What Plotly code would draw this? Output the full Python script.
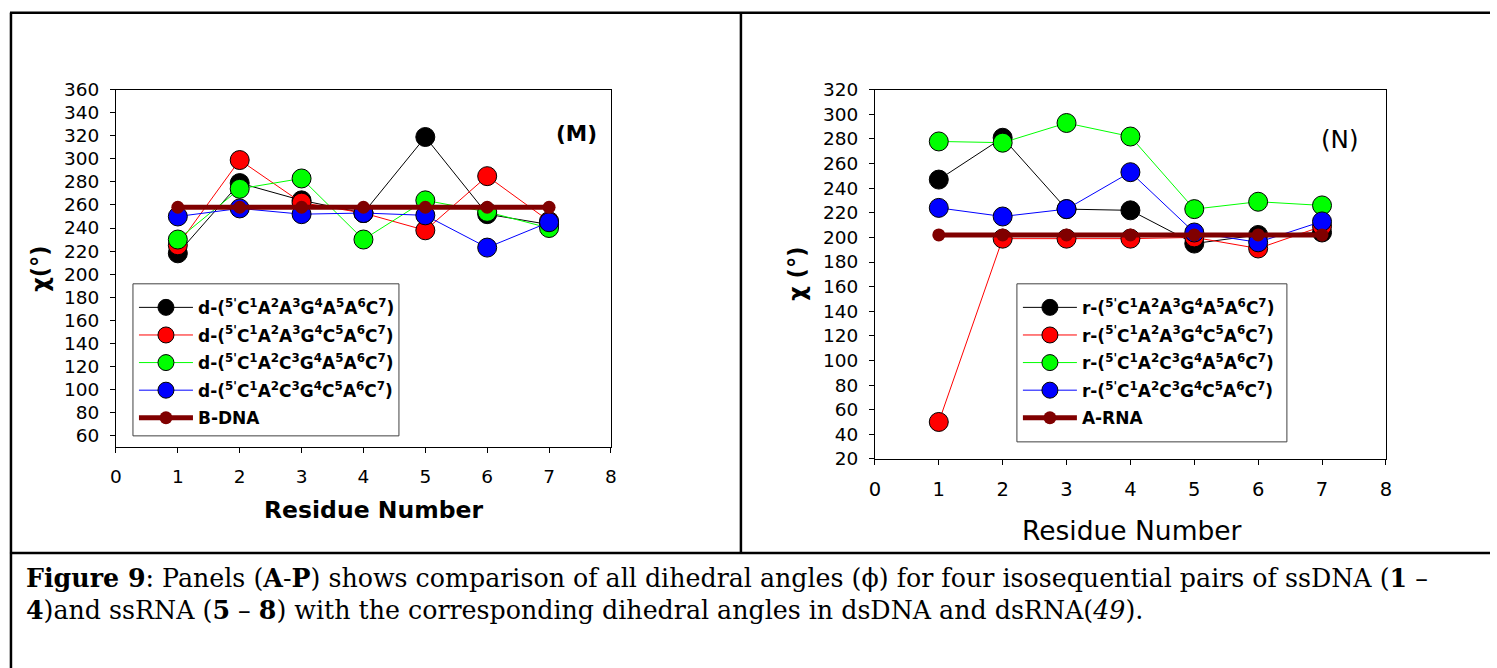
import plotly.graph_objects as go

# Target picture size; all positions below are given in target-picture pixels.
W, H = 1497, 668
# Page geometry: the body keeps an 8px margin and the captured page is mapped
# onto the picture with a small fixed scale; positions are converted back here.
OFF = 8
SX, BX = 0.992, -1.9
SY, BY = 0.9685, 2.5
FW, FH = 1490, 672

residues = [1, 2, 3, 4, 5, 6, 7]

# Panel M (ssDNA)
m_black = [218, 279, 264, 253, 319, 252, 243]
m_red = [225, 299, 262, 253, 238, 285, 246]
m_green = [230, 274, 283, 230, 264, 254, 240]
m_blue = [250, 257, 252, 253, 251, 223, 245]
m_bdna = [258, 258, 258, 258, 258, 258, 258]

# Panel N (ssRNA)
n_black = [247, 281, 223, 222, 195, 202, 204]
n_red = [50, 199, 199, 199, 200, 191, 209]
n_green = [278, 277, 293, 282, 223, 229, 226]
n_blue = [224, 217, 223, 253, 204, 196, 213]
n_arna = [202, 202, 202, 202, 202, 202, 202]

sequences = ["CAAGAAC", "CAAGCAC", "CACGAAC", "CACGCAC"]
colors = ["#000000", "#FF0000", "#00FF00", "#0000FF"]
x_ticks = [0, 1, 2, 3, 4, 5, 6, 7, 8]

SANS = "DejaVu Sans, Liberation Sans, Arial, sans-serif"
SERIF = "DejaVu Serif, Liberation Serif, Times New Roman, serif"


def seq_label(prefix, seq):
    s = prefix + "-(<sup>5'</sup>"
    for i, c in enumerate(seq):
        s += c + "<sup>%d</sup>" % (i + 1)
    return "<b>" + s + ")</b>"


def fx(x):
    return (x - BX) / SX - OFF


def fy(y):
    return (y - BY) / SY - OFF


def px(x):
    return fx(x) / FW


def py(y):
    return 1 - fy(y) / FH


fig = go.Figure()

left_series = [m_black, m_red, m_green, m_blue]
right_series = [n_black, n_red, n_green, n_blue]

for i, (vals, col) in enumerate(zip(left_series, colors)):
    fig.add_trace(go.Scatter(
        x=residues, y=vals, mode="lines+markers", name=seq_label("d", sequences[i]),
        line=dict(color=col, width=1), legendgroup="L%d" % i,
        marker=dict(size=19, color=col, line=dict(color="black", width=1)),
        xaxis="x", yaxis="y", legend="legend"))
fig.add_trace(go.Scatter(
    x=residues, y=m_bdna, mode="lines+markers", name="<b>B-DNA</b>", legendgroup="L4",
    line=dict(color="#800000", width=5),
    marker=dict(size=13, color="#800000", line=dict(color="#800000", width=0)),
    xaxis="x", yaxis="y", legend="legend"))

for i, (vals, col) in enumerate(zip(right_series, colors)):
    fig.add_trace(go.Scatter(
        x=residues, y=vals, mode="lines+markers", name=seq_label("r", sequences[i]),
        line=dict(color=col, width=1), legendgroup="R%d" % i,
        marker=dict(size=19, color=col, line=dict(color="black", width=1)),
        xaxis="x2", yaxis="y2", legend="legend2"))
fig.add_trace(go.Scatter(
    x=residues, y=n_arna, mode="lines+markers", name="<b>A-RNA</b>", legendgroup="R4",
    line=dict(color="#800000", width=5),
    marker=dict(size=13, color="#800000", line=dict(color="#800000", width=0)),
    xaxis="x2", yaxis="y2", legend="legend2"))

axis_common = dict(
    showgrid=False, zeroline=False, showline=True, linecolor="black", linewidth=1,
    mirror=True, ticks="outside", ticklen=5, tickcolor="black",
)

legend_common = dict(
    bgcolor="rgba(0,0,0,0)", borderwidth=0,
    font=dict(family=SANS, size=17, color="black"),
    xanchor="left", yanchor="top", tracegroupgap=2.5, itemwidth=54,
)

fig.update_layout(
    width=FW, height=FH,
    margin=dict(l=0, r=0, t=0, b=0),
    paper_bgcolor="white", plot_bgcolor="white",
    font=dict(family=SANS, color="black"),
    xaxis=dict(domain=[px(116), px(611)], range=[0, 8], tickvals=x_ticks,
               tickfont=dict(size=18.5), ticklabelstandoff=8, anchor="y", **axis_common),
    yaxis=dict(domain=[py(446), py(89)], range=[50, 360], tick0=0, dtick=20,
               tickfont=dict(size=18.5), ticklabelstandoff=7, anchor="x", **axis_common),
    xaxis2=dict(domain=[px(875), px(1386)], range=[0, 8], tickvals=x_ticks,
                tickfont=dict(size=19.5), ticklabelstandoff=8, anchor="y2", **axis_common),
    yaxis2=dict(domain=[py(458), py(89)], range=[20, 320], tick0=0, dtick=20,
                tickfont=dict(size=18.5), ticklabelstandoff=7, anchor="x2", **axis_common),
    legend=dict(x=px(134), y=py(289), **legend_common),
    legend2=dict(x=px(1018), y=py(289), **legend_common),
    showlegend=True,
)

# legend frames
for x0, y0, x1, y1 in [(133, 283, 399, 435), (1017, 283, 1287, 441)]:
    fig.add_shape(type="rect", xref="paper", yref="paper", layer="above",
                  x0=px(x0), y0=py(y1), x1=px(x1), y1=py(y0),
                  fillcolor="white", line=dict(color="#404040", width=1))

annotations = [
    dict(x=px(577), y=py(133), text="<b>(M)</b>", font=dict(size=21.5)),
    dict(x=px(1340), y=py(139), text="(N)", font=dict(size=24.5)),
    dict(x=px(374), y=py(509), text="<b>Residue Number</b>", font=dict(size=23.5)),
    dict(x=px(1132), y=py(530), text="Residue Number", font=dict(size=26.5)),
    dict(x=px(40), y=py(268), text="<b>χ(°)</b>", font=dict(size=22.5), textangle=-90),
    dict(x=px(797), y=py(273), text="<b>χ (°)</b>", font=dict(size=22.5), textangle=-90),
]
for a in annotations:
    fig.add_annotation(xref="paper", yref="paper", xanchor="center", yanchor="middle",
                       showarrow=False, **a)

cap_font = dict(family=SERIF, size=25.3, color="black")
fig.add_annotation(xref="paper", yref="paper", x=px(24), y=py(577), xanchor="left", yanchor="middle",
                   showarrow=False, font=cap_font, align="left",
                   text="<b>Figure 9</b>: Panels (<b>A</b>-<b>P</b>) shows comparison of all dihedral angles (ϕ) "
                        "for four isosequential pairs of ssDNA (<b>1</b> –")
fig.add_annotation(xref="paper", yref="paper", x=px(24), y=py(609), xanchor="left", yanchor="middle",
                   showarrow=False, font=cap_font, align="left",
                   text="<b>4</b>)and ssRNA (<b>5</b> – <b>8</b>) with the corresponding dihedral angles "
                        "in dsDNA and dsRNA(<i>49</i>).")

shapes = [
    (10, 12, W, 12),
    (11, 12, 11, H),
    (741, 12, 741, 552),
    (10, 552, W, 552),
]
for x0, y0, x1, y1 in shapes:
    fig.add_shape(type="line", xref="paper", yref="paper",
                  x0=px(x0), y0=py(y0), x1=px(x1), y1=py(y1),
                  line=dict(color="black", width=2.5))

fig.write_html("out.html")
